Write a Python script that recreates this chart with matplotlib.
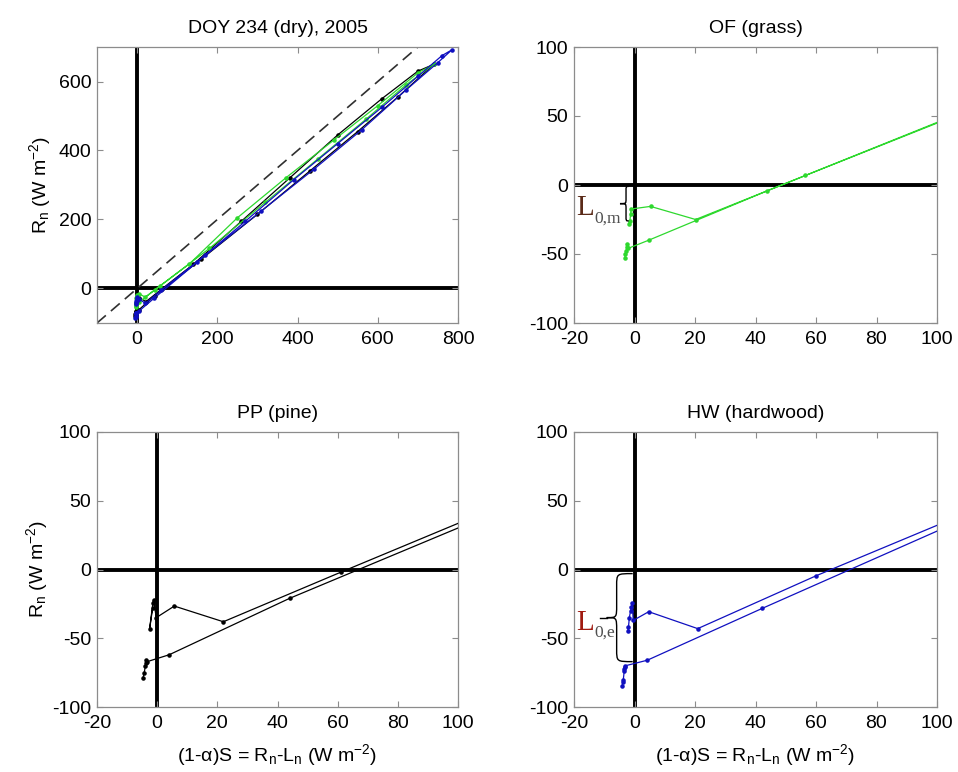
import matplotlib
matplotlib.use("Agg")
import matplotlib.pyplot as plt
from matplotlib.path import Path
from matplotlib.patches import PathPatch

plt.rcParams['font.family'] = ['Liberation Sans', 'DejaVu Sans']
plt.rcParams['mathtext.fontset'] = 'custom'
plt.rcParams['mathtext.rm'] = 'Liberation Sans'
plt.rcParams['mathtext.it'] = 'Liberation Sans'
plt.rcParams['axes.unicode_minus'] = False

# ---- data: (1-alpha)S (x) and Rn (y), one diurnal path per site ----
pp_x = [-4.7, -4.3, -3.9, -3.6, -3.8, -3.3, 4.0, 44.0, 160, 300, 430, 550, 650, 740,
        700, 610, 500, 380, 260, 140, 61, 22, 5.7, -0.3, -1.2, -1.4, -2.5, -1.5]
pp_y = [-79, -75, -70, -66, -68, -67, -62, -21, 85, 215, 340, 455, 555, 650,
        630, 550, 445, 320, 195, 70, -2, -38, -26.6, -35, -22, -24, -43, -28]

hw_x = [-4.1, -3.9, -3.7, -3.4, -3.2, -3.5, -3.0, 4.2, 42.2, 170, 310, 440, 560, 670, 750, 785,
        760, 700, 610, 500, 390, 270, 150, 60.1, 20.9, 4.7, -0.4, -0.8, -1.0, -1.3, -1.7, -2.0, -2.2]
hw_y = [-85, -82, -80, -74, -71, -72, -70, -66, -28.3, 96, 225, 345, 460, 575, 655, 692,
        675, 615, 525, 420, 315, 195, 78, -4.5, -43, -30.7, -37, -24, -27, -30, -35, -42, -45]

of_x = [-3.2, -3.0, -2.8, -2.6, -2.4, -2.2, 4.7, 43.8, 180, 320, 450, 570, 670, 740,
        700, 600, 490, 370, 250, 130, 56.5, 20.2, 5.3, -1.1, -1.3, -1.5, -1.9]
of_y = [-53, -50, -48, -45, -43, -46, -40, -4.3, 116, 250, 375, 490, 590, 650,
        625, 530, 430, 320, 205, 71, 6.9, -25, -15.5, -17.4, -21, -25.8, -28]

# bracket extents (L0 intercepts)
L0m_top, L0m_bot = -1, -26
L0e_top, L0e_bot = -3, -67

titles = ["DOY 234 (dry), 2005", "OF (grass)", "PP (pine)", "HW (hardwood)"]
c_pp, c_of, c_hw = 'black', '#2ed82e', '#1010c0'

FS = 14

W, H = 958, 772
fig = plt.figure(figsize=(W / 100, H / 100), dpi=100)
pos = {
    0: [97 / W, 1 - 323 / H, 361 / W, 276 / H],
    1: [574 / W, 1 - 323 / H, 363 / W, 276 / H],
    2: [97 / W, 1 - 707 / H, 361 / W, 275 / H],
    3: [574 / W, 1 - 707 / H, 363 / W, 275 / H],
}
axes = [fig.add_axes(pos[i]) for i in range(4)]

ylab = r'R$_\mathregular{n}$ (W m$^\mathregular{-2}$)'
xlab = r'(1-α)S = R$_\mathregular{n}$-L$_\mathregular{n}$ (W m$^\mathregular{-2}$)'


def style(ax):
    for s in ax.spines.values():
        s.set_color('#8c8c8c')
        s.set_linewidth(0.9)
    ax.tick_params(direction='in', top=True, right=True, length=4, width=0.8,
                   color='#8c8c8c', labelsize=FS, labelcolor='black')
    ax.tick_params(axis='x', pad=6)
    ax.tick_params(axis='y', pad=4)
    ax.axhline(0, color='black', lw=2.8, zorder=1)
    ax.axvline(0, color='black', lw=2.8, zorder=1)


def series(ax, x, y, c):
    ax.plot(x, y, '-', color=c, lw=0.9, marker='.', ms=4.5, zorder=3)


def brace(ax, x_end, x_v, x_tip, y_top, y_bot):
    h = y_top - y_bot
    r = 0.14 * h
    ym = 0.5 * (y_top + y_bot)
    verts = [(x_end, y_top), (x_v, y_top), (x_v, y_top), (x_v, y_top - r),
             (x_v, ym + r),
             (x_v, ym), (x_v, ym), (x_tip, ym),
             (x_v, ym), (x_v, ym), (x_v, ym - r),
             (x_v, y_bot + r),
             (x_v, y_bot), (x_v, y_bot), (x_end, y_bot)]
    codes = [Path.MOVETO, Path.CURVE4, Path.CURVE4, Path.CURVE4,
             Path.LINETO,
             Path.CURVE4, Path.CURVE4, Path.CURVE4,
             Path.CURVE4, Path.CURVE4, Path.CURVE4,
             Path.LINETO,
             Path.CURVE4, Path.CURVE4, Path.CURVE4]
    ax.add_patch(PathPatch(Path(verts, codes), fill=False, lw=1.0,
                           edgecolor='black', zorder=5, clip_on=False))


def L_label(ax, x, y, sub, lcolor):
    ax.text(x, y, 'L', fontsize=21, family='Liberation Serif', color=lcolor,
            ha='left', va='baseline', zorder=6)
    ax.annotate(sub, xy=(x, y), xytext=(13, -5), textcoords='offset points',
                fontsize=12.5, family='Liberation Serif', color='#505050',
                ha='left', va='baseline', zorder=6)


# top-left: all sites, full range
ax = axes[0]
style(ax)
ax.axline((0, 0), slope=1, color='#303030', lw=1.2, ls=(0, (7, 4)), zorder=2)
series(ax, pp_x, pp_y, c_pp)
series(ax, of_x, of_y, c_of)
series(ax, hw_x, hw_y, c_hw)
ax.set_xlim(-100, 800)
ax.set_ylim(-100, 700)
ax.set_xticks([0, 200, 400, 600, 800])
ax.set_yticks([0, 200, 400, 600])
ax.set_ylabel(ylab, fontsize=FS, labelpad=4)

# zoomed panels
for ax, (x, y, c) in zip(axes[1:], [(of_x, of_y, c_of), (pp_x, pp_y, c_pp), (hw_x, hw_y, c_hw)]):
    style(ax)
    series(ax, x, y, c)
    ax.set_xlim(-20, 100)
    ax.set_ylim(-100, 100)
    ax.set_xticks(range(-20, 101, 20))
    ax.set_yticks(range(-100, 101, 50))

for i, ax in enumerate(axes):
    ax.set_title(titles[i], fontsize=FS, pad=10)

axes[2].set_ylabel(ylab, fontsize=FS, labelpad=2)
axes[2].set_xlabel(xlab, fontsize=FS, labelpad=7)
axes[3].set_xlabel(xlab, fontsize=FS, labelpad=7)

# brackets
brace(axes[1], -1.9, -2.8, -4.8, L0m_top, L0m_bot)
L_label(axes[1], -19.3, -22, '0,m', '#5a2a18')
brace(axes[3], -0.6, -5.9, -9.2, L0e_top, L0e_bot)
axes[3].plot([-11.5, -9.2], [(L0e_top + L0e_bot) / 2] * 2, color='black', lw=1.0, zorder=5)
L_label(axes[3], -19.3, -44, '0,e', '#a01a10')

fig.savefig('out.png', dpi=100, facecolor='white')
